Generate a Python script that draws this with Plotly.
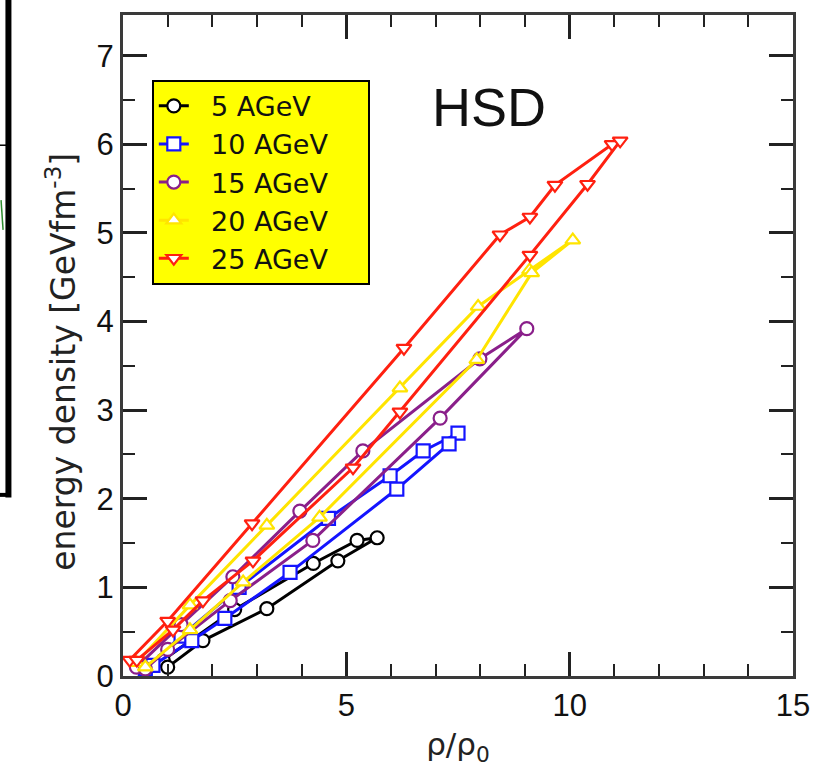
import plotly.graph_objects as go

# ---- data (rho/rho0, energy density) : each series is a loop (up branch, then back down)
labels = ["5 AGeV", "10 AGeV", "15 AGeV", "20 AGeV", "25 AGeV"]

x5 = [0.9, 2.5, 4.26, 5.24, 5.69, 4.81, 3.22, 1.79, 1.0]
y5 = [0.18, 0.75, 1.27, 1.53, 1.56, 1.30, 0.76, 0.40, 0.10]

x10 = [0.5, 1.3, 2.6, 4.6, 5.98, 6.72, 7.5, 7.3, 6.13, 3.74, 2.28, 1.54, 0.67]
y10 = [0.08, 0.45, 1.00, 1.78, 2.26, 2.54, 2.74, 2.62, 2.11, 1.17, 0.65, 0.40, 0.12]

x15 = [0.3, 1.3, 2.46, 3.96, 5.37, 7.99, 9.04, 7.1, 4.25, 2.4, 1.0, 0.5]
y15 = [0.10, 0.58, 1.12, 1.86, 2.54, 3.58, 3.92, 2.91, 1.53, 0.85, 0.30, 0.08]

x20 = [0.3, 1.5, 3.22, 6.2, 7.95, 9.1, 10.07, 9.15, 7.92, 4.4, 2.69, 1.5, 0.5]
y20 = [0.15, 0.80, 1.70, 3.25, 4.17, 4.58, 4.92, 4.55, 3.57, 1.79, 1.06, 0.52, 0.10]

x25 = [0.15, 1.0, 2.89, 6.29, 8.44, 9.11, 9.67, 10.95, 11.13, 10.4, 9.11, 6.2, 5.15, 2.91, 1.79, 1.12, 0.31]
y25 = [0.18, 0.62, 1.72, 3.70, 4.98, 5.18, 5.54, 6.00, 6.04, 5.55, 4.75, 2.98, 2.35, 1.30, 0.85, 0.52, 0.18]

x_ticks = [0, 5, 10, 15]
y_ticks = [0, 1, 2, 3, 4, 5, 6, 7]

series = [
    (x5, y5, "black", "circle"),
    (x10, y10, "#1414ff", "square"),
    (x15, y15, "#8a1f8a", "circle"),
    (x20, y20, "#ffe400", "triangle-up"),
    (x25, y25, "#ff2010", "triangle-down"),
]

NB = "\u00a0"
fig = go.Figure()
for (xs, ys, col, sym), lab in zip(series, labels):
    fig.add_trace(go.Scatter(
        x=xs, y=ys, mode="lines+markers", name=NB * 2 + lab + NB * 4,
        line=dict(color=col, width=3),
        marker=dict(symbol=sym, size=13, color="white", line=dict(color=col, width=2.2)),
    ))

axis_common = dict(
    showline=True, linecolor="#3a3a3a", linewidth=3, mirror="ticks",
    ticks="inside", ticklen=24, tickwidth=2.5, tickcolor="#222",
    showgrid=False, zeroline=False,
    tickfont=dict(family="Liberation Sans, Arial", size=31, color="#111"),
)

fig.update_xaxes(
    range=[0, 15], tickvals=x_ticks, ticktext=[str(v) for v in x_ticks],
    minor=dict(dtick=1, ticks="inside", ticklen=12, tickwidth=2, tickcolor="#222"),
    title=dict(text="ρ/ρ<sub>0</sub>", font=dict(family="DejaVu Sans", size=31, color="#222"), standoff=12),
    **axis_common,
)
fig.update_yaxes(
    range=[0, 7.46], tickvals=y_ticks, ticktext=[str(v) for v in y_ticks],
    minor=dict(dtick=0.5, ticks="inside", ticklen=12, tickwidth=2, tickcolor="#222"),
    **axis_common,
)

# y-axis title placed as a rotated annotation (slightly below centre, as in the original)
fig.add_annotation(x=-0.092, y=0.476, xref="paper", yref="paper", textangle=-90,
                   text="energy density [GeVfm<sup>-3</sup>]", showarrow=False,
                   xanchor="center", yanchor="middle",
                   font=dict(family="DejaVu Sans", size=33, color="#222"))

fig.add_annotation(x=8.2, y=6.42, xref="x", yref="y", text="HSD", showarrow=False,
                   font=dict(family="Liberation Sans, Arial", size=54, color="#111"))

# decorations from the neighbouring panel (cropped)
fig.add_shape(type="line", xref="paper", yref="paper", x0=-0.171, x1=-0.171, y0=1.03, y1=0.27,
              line=dict(color="black", width=6))
fig.add_shape(type="line", xref="paper", yref="paper", x0=-0.19, x1=-0.168, y0=0.274, y1=0.274,
              line=dict(color="black", width=4))
fig.add_shape(type="line", xref="paper", yref="paper", x0=-0.19, x1=-0.17, y0=0.803, y1=0.803,
              line=dict(color="black", width=1.5))
fig.add_shape(type="line", xref="paper", yref="paper", x0=-0.182, x1=-0.179, y0=0.72, y1=0.675,
              line=dict(color="#2e8b2e", width=1.5))

fig.update_layout(
    width=840, height=772,
    margin=dict(l=123, r=47, t=12, b=96),
    paper_bgcolor="white", plot_bgcolor="white",
    showlegend=True,
    legend=dict(x=0.043, y=0.902, xanchor="left", yanchor="top",
                bgcolor="#ffff00", bordercolor="black", borderwidth=2,
                font=dict(family="DejaVu Sans", size=27, color="#111"),
                tracegroupgap=0),
)

fig.write_html("out.html")
